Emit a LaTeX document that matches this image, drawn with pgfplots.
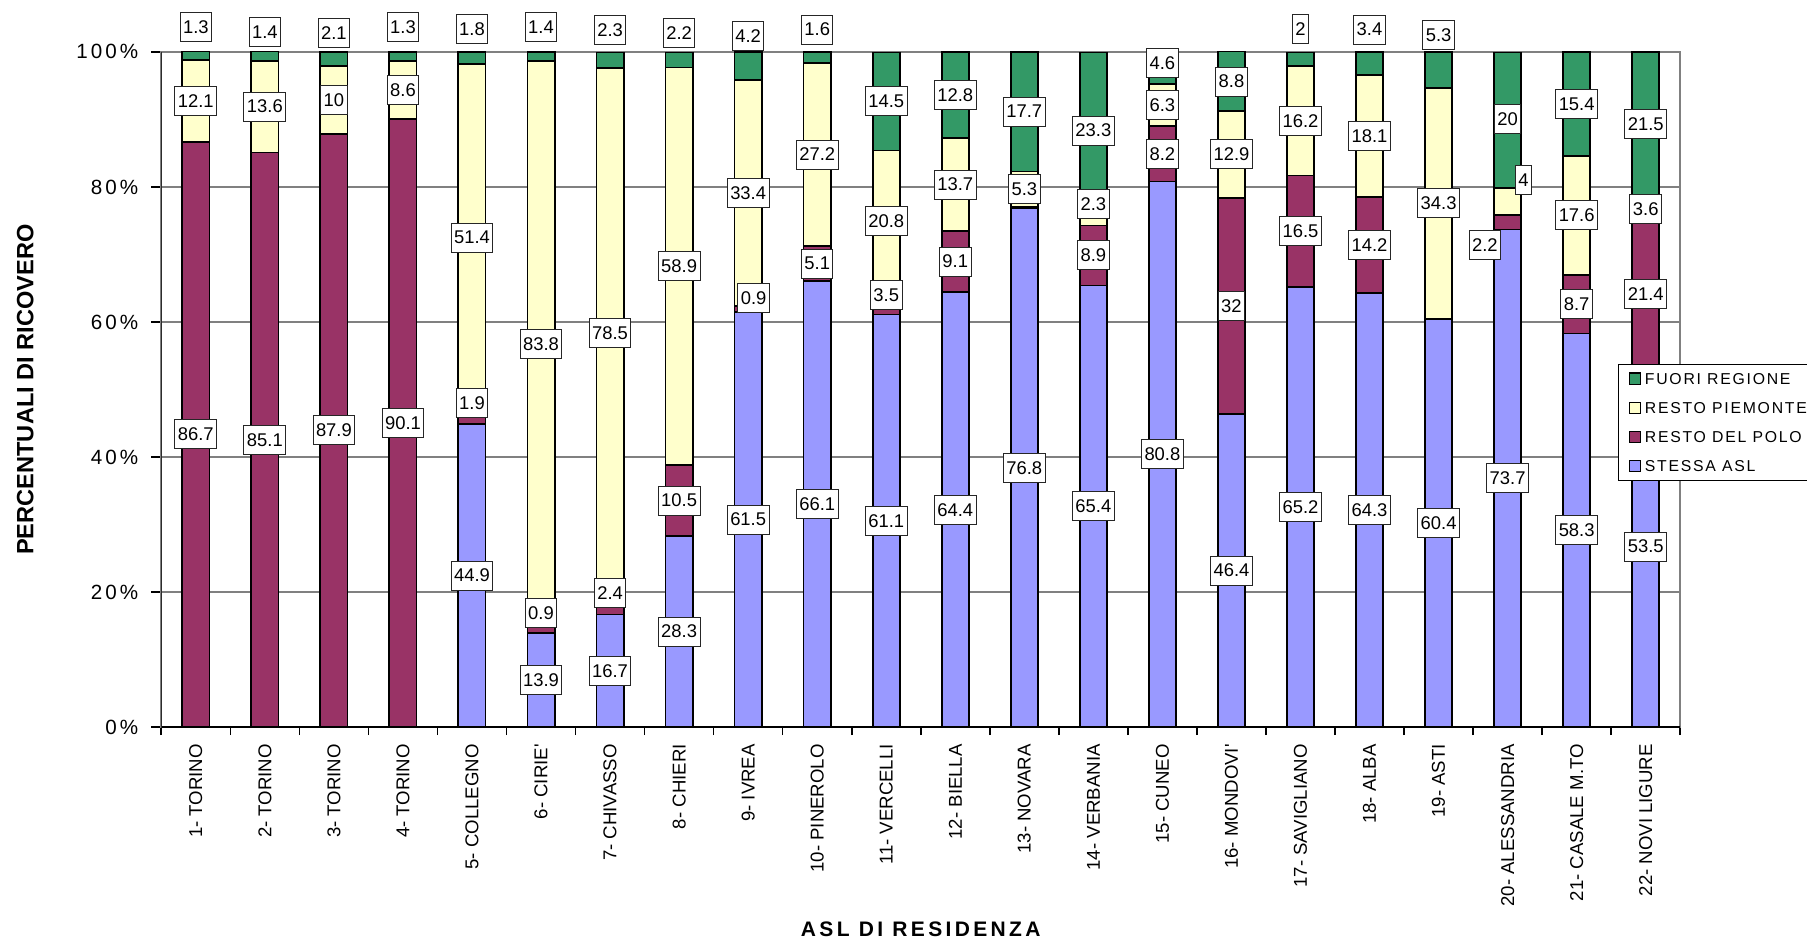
\documentclass[border=0pt]{standalone}
\usepackage{fontspec}
\setmainfont{Liberation Sans}
\newfontfamily\spaced[LetterSpace=11]{Liberation Sans}
\newfontfamily\tickfont[LetterSpace=15]{Liberation Sans}
\newfontfamily\wide[LetterSpace=16]{Liberation Sans}
\usepackage{pgfplots}
\pgfplotsset{compat=1.18}
\usepackage{pgfplotstable}

\definecolor{cstessa}{HTML}{9999FF}
\definecolor{cpolo}{HTML}{993366}
\definecolor{cpiem}{HTML}{FFFFCC}
\definecolor{cfuori}{HTML}{339966}
\definecolor{cgrid}{HTML}{808080}

\pgfplotstableread{
x stessa polo piem fuori
1 0 86.7 12.1 1.3
2 0 85.1 13.6 1.4
3 0 87.9 10 2.1
4 0 90.1 8.6 1.3
5 44.9 1.9 51.4 1.8
6 13.9 0.9 83.8 1.4
7 16.7 2.4 78.5 2.3
8 28.3 10.5 58.9 2.2
9 61.5 0.9 33.4 4.2
10 66.1 5.1 27.2 1.6
11 61.1 3.5 20.8 14.5
12 64.4 9.1 13.7 12.8
13 76.8 0.2 5.3 17.7
14 65.4 8.9 2.3 23.3
15 80.8 8.2 6.3 4.6
16 46.4 32 12.9 8.8
17 65.2 16.5 16.2 2
18 64.3 14.2 18.1 3.4
19 60.4 0 34.3 5.3
20 73.7 2.2 4 20
21 58.3 8.7 17.6 15.4
22 53.5 21.4 3.6 21.5
}\datatable

\pgfplotstableread{
x y lab
1 103.7 1.3
1 92.75 12.1
1 43.35 86.7
2 102.9 1.4
2 91.9 13.6
2 42.55 85.1
3 102.8 2.1
3 92.9 10
3 43.95 87.9
4 103.7 1.3
4 94.4 8.6
4 45.05 90.1
5 103.4 1.8
5 72.5 51.4
5 48.0 1.9
5 22.45 44.9
6 103.7 1.4
6 56.7 83.8
6 16.9 0.9
6 6.95 13.9
7 103.2 2.3
7 58.35 78.5
7 19.8 2.4
7 8.35 16.7
8 102.8 2.2
8 68.25 58.9
8 33.55 10.5
8 14.15 28.3
9 102.4 4.2
9 79.1 33.4
9.08 63.6 0.9
9 30.75 61.5
10 103.3 1.6
10 84.8 27.2
10 68.65 5.1
10 33.05 66.1
11 92.75 14.5
11 75.0 20.8
11 64.0 3.5
11 30.55 61.1
12 93.6 12.8
12 80.35 13.7
12 68.95 9.1
12 32.2 64.4
13 91.15 17.7
13 79.65 5.3
13 38.4 76.8
14 88.35 23.3
14 77.5 2.3
14 69.85 8.9
14 32.7 65.4
15 98.4 4.6
15 92.15 6.3
15 84.9 8.2
15 40.4 80.8
16 95.6 8.8
16 84.85 12.9
16 62.4 32
16 23.2 46.4
17 103.4 2
17 89.8 16.2
17 73.45 16.5
17 32.6 65.2
18 103.3 3.4
18 87.55 18.1
18 71.4 14.2
18 32.15 64.3
19 102.5 5.3
19 77.55 34.3
19 30.2 60.4
20 90.0 20
20.23 81.0 4
19.67 71.4 2.2
20 36.85 73.7
21 92.3 15.4
21 75.85 17.6
21 62.65 8.7
21 29.15 58.3
22 89.25 21.5
22 76.7 3.6
22 64.2 21.4
22 26.75 53.5
}\labtable

\pgfplotsset{myax/.style={at={(80.65pt,107.4pt)}, anchor=south west,
  width=759.45pt, height=337.65pt, scale only axis,
  xmin=0.5, xmax=22.5, ymin=0, ymax=100}}

\begin{document}
\begin{tikzpicture}
\path[use as bounding box, clip] (0,0) rectangle (903.5pt,471pt);
\begin{axis}[myax,
  ybar stacked, bar width=13.6pt,
  axis line style={draw=cgrid, line width=0.8pt},
  ymajorgrids, major grid style={cgrid, line width=0.8pt},
  ytick={0,20,40,60,80,100},
  yticklabel={\pgfmathprintnumber{\tick}\%},
  /pgf/number format/assume math mode=true,
  yticklabel style={font=\tickfont\fontsize{10.3}{12}\selectfont, xshift=-3pt},
  xtick={1,...,22},
  xticklabels={1- TORINO,2- TORINO,3- TORINO,4- TORINO,5- COLLEGNO,6- CIRIE\textquotesingle,7- CHIVASSO,8- CHIERI,9- IVREA,10- PINEROLO,11- VERCELLI,12- BIELLA,13- NOVARA,14- VERBANIA,15- CUNEO,16- MONDOVI\textquotesingle,17- SAVIGLIANO,18- ALBA,19- ASTI,20- ALESSANDRIA,21- CASALE M.TO,22- NOVI LIGURE},
  xticklabel style={rotate=90, anchor=east, font=\fontsize{9.3}{11}\selectfont},
  major x tick style={draw=none},
  minor xtick={0.5,1.5,...,22.5},
  xtick pos=bottom, ytick pos=left,
  tick align=outside, major tick length=5pt, minor tick length=4pt,
  tick style={black, line width=0.8pt},
  xlabel={\wide\bfseries\fontsize{10.5}{12}\selectfont ASL DI RESIDENZA},
  ylabel={\bfseries\fontsize{11.8}{13}\selectfont PERCENTUALI DI RICOVERO},
  every axis x label/.style={at={(axis description cs:0.5,-0.299)}, anchor=center},
  every axis y label/.style={at={(axis description cs:-0.0895,0.5)}, anchor=center, rotate=90},
  reverse legend,
  legend style={at={(axis description cs:0.959,0.538)}, anchor=north west,
    draw=black, line width=0.6pt, font=\spaced\fontsize{7.9}{9}\selectfont,
    inner xsep=5pt, inner ysep=4pt, row sep=8.4pt,
    nodes={inner sep=0pt, text height=5.6pt, text depth=0pt},
    /tikz/every odd column/.append style={column sep=2pt}},
  legend cell align=left,
  legend image code/.code={\draw[#1, draw=black, line width=0.6pt] (0pt,-2.8pt) rectangle (5.6pt,2.8pt);},
]
\addplot[fill=cstessa, draw=black, line width=0.9pt] table[x=x, y=stessa] \datatable;
\addplot[fill=cpolo, draw=black, line width=0.9pt] table[x=x, y=polo] \datatable;
\addplot[fill=cpiem, draw=black, line width=0.9pt] table[x=x, y=piem] \datatable;
\addplot[fill=cfuori, draw=black, line width=0.9pt] table[x=x, y=fuori] \datatable;
\legend{STESSA ASL, RESTO DEL POLO, RESTO PIEMONTE, FUORI REGIONE}
\draw[black, line width=0.8pt] (rel axis cs:0,1) -- (rel axis cs:0,0) -- (rel axis cs:1,0);
\end{axis}
\begin{axis}[myax, hide axis, clip=false]
\addplot[draw=none, mark=none, nodes near coords, nodes near coords align=center,
  point meta=explicit symbolic,
  every node near coord/.append style={draw=black!85, fill=white, line width=0.5pt,
    text=black, font=\fontsize{9.2}{10}\selectfont, inner xsep=1.5pt, inner ysep=0pt,
    minimum height=14.5pt, anchor=center}]
  table[x=x, y=y, meta=lab] \labtable;
\end{axis}
\end{tikzpicture}
\end{document}
